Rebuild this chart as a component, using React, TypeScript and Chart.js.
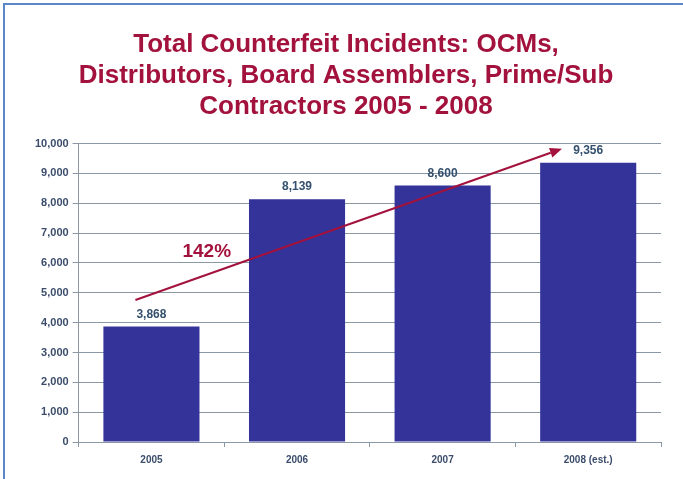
import React, { useEffect, useRef } from "react";
import { Chart, registerables } from "chart.js";

Chart.register(...registerables);

const titleLines = [
  "Total Counterfeit Incidents: OCMs,",
  "Distributors, Board Assemblers, Prime/Sub",
  "Contractors 2005 - 2008",
];
const categories = ["2005", "2006", "2007", "2008 (est.)"];
const incidents = [3868, 8139, 8600, 9356];
const yMin = 0;
const yMax = 10000;
const yStep = 1000;
// growth arrow, in data coordinates (category index, value)
const arrowStart = { index: -0.11, value: 4760 };
const arrowEnd = { index: 2.82, value: 9830 };
const growthLabel = "142%";
const growthLabelAt = { index: 0.38, value: 6380 };

const TITLE_COLOR = "#A3123C";
const BAR_COLOR = "#333399";
const LABEL_COLOR = "#34506E";
const TICK_COLOR = "#3B4D6B";
const GRID_COLOR = "#8A97A4";
const ARROW_COLOR = "#A3123C";
const FONT = "'Liberation Sans', Arial, Helvetica, sans-serif";

function xAt(xs: any, idx: number) {
  const p0 = xs.getPixelForValue(0);
  const p1 = xs.getPixelForValue(1);
  return p0 + idx * (p1 - p0);
}

const overlayPlugin = {
  id: "overlay",
  afterDatasetsDraw(chart: any) {
    const ctx = chart.ctx;
    const xs = chart.scales.x;
    const ys = chart.scales.y;
    const meta = chart.getDatasetMeta(0);
    ctx.save();
    ctx.font = `bold 12px ${FONT}`;
    ctx.fillStyle = LABEL_COLOR;
    ctx.textAlign = "center";
    ctx.textBaseline = "bottom";
    meta.data.forEach((bar: any, i: number) => {
      ctx.fillText(incidents[i].toLocaleString("en-US"), bar.x, bar.y - 6);
    });
    const x1 = xAt(xs, arrowStart.index);
    const y1 = ys.getPixelForValue(arrowStart.value);
    const x2 = xAt(xs, arrowEnd.index);
    const y2 = ys.getPixelForValue(arrowEnd.value);
    const ang = Math.atan2(y2 - y1, x2 - x1);
    const headLen = 12;
    const headW = 5;
    const bx = x2 - headLen * Math.cos(ang);
    const by = y2 - headLen * Math.sin(ang);
    ctx.strokeStyle = ARROW_COLOR;
    ctx.lineWidth = 2;
    ctx.beginPath();
    ctx.moveTo(x1, y1);
    ctx.lineTo(bx, by);
    ctx.stroke();
    ctx.fillStyle = ARROW_COLOR;
    ctx.beginPath();
    ctx.moveTo(x2, y2);
    ctx.lineTo(bx + headW * Math.sin(ang), by - headW * Math.cos(ang));
    ctx.lineTo(bx - headW * Math.sin(ang), by + headW * Math.cos(ang));
    ctx.closePath();
    ctx.fill();
    ctx.font = `bold 19px ${FONT}`;
    ctx.fillStyle = ARROW_COLOR;
    ctx.textBaseline = "middle";
    ctx.fillText(growthLabel, xAt(xs, growthLabelAt.index), ys.getPixelForValue(growthLabelAt.value));
    ctx.restore();
  },
};

export default function App() {
  const ref = useRef<HTMLCanvasElement | null>(null);
  useEffect(() => {
    if (!ref.current) return;
    const chart = new Chart(ref.current, {
      type: "bar",
      data: {
        labels: categories,
        datasets: [
          {
            data: incidents,
            backgroundColor: BAR_COLOR,
            borderWidth: 0,
            categoryPercentage: 1,
            barPercentage: 0.66,
          },
        ],
      },
      options: {
        animation: false,
        responsive: true,
        maintainAspectRatio: false,
        layout: { padding: { left: 31, right: 22, top: 23, bottom: 6 } },
        plugins: {
          legend: { display: false },
          tooltip: { enabled: false },
          title: {
            display: true,
            text: titleLines,
            color: TITLE_COLOR,
            font: { family: FONT, size: 26, weight: "bold", lineHeight: 1.2 },
            padding: { top: 6, bottom: 21 },
          },
        },
        scales: {
          x: {
            grid: {
              display: true,
              drawOnChartArea: false,
              drawTicks: true,
              tickLength: 5,
              color: GRID_COLOR,
              offset: true,
            },
            border: { display: true, color: GRID_COLOR, width: 1 },
            ticks: {
              color: TICK_COLOR,
              font: { family: FONT, size: 10, weight: "bold" },
              padding: 7,
            },
          },
          y: {
            min: yMin,
            max: yMax,
            grid: {
              color: GRID_COLOR,
              drawTicks: true,
              tickLength: 6,
            },
            border: { display: true, color: GRID_COLOR, width: 1 },
            ticks: {
              stepSize: yStep,
              color: TICK_COLOR,
              font: { family: FONT, size: 11, weight: "bold" },
              padding: 4,
              callback: (v: any) => Number(v).toLocaleString("en-US"),
            },
          },
        },
      },
      plugins: [overlayPlugin],
    });
    return () => chart.destroy();
  }, []);

  return (
    <div
      style={{
        position: "fixed",
        left: 0,
        top: 0,
        width: 683,
        height: 479,
        overflow: "hidden",
        background: "#ffffff",
      }}
    >
      <div
        style={{
          position: "absolute",
          left: 3,
          top: 3,
          width: 700,
          height: 500,
          border: "2px solid #5B86C8",
          boxSizing: "border-box",
        }}
      />
      <div style={{ position: "absolute", left: 0, top: 0, width: 683, height: 479 }}>
        <canvas ref={ref} />
      </div>
    </div>
  );
}
